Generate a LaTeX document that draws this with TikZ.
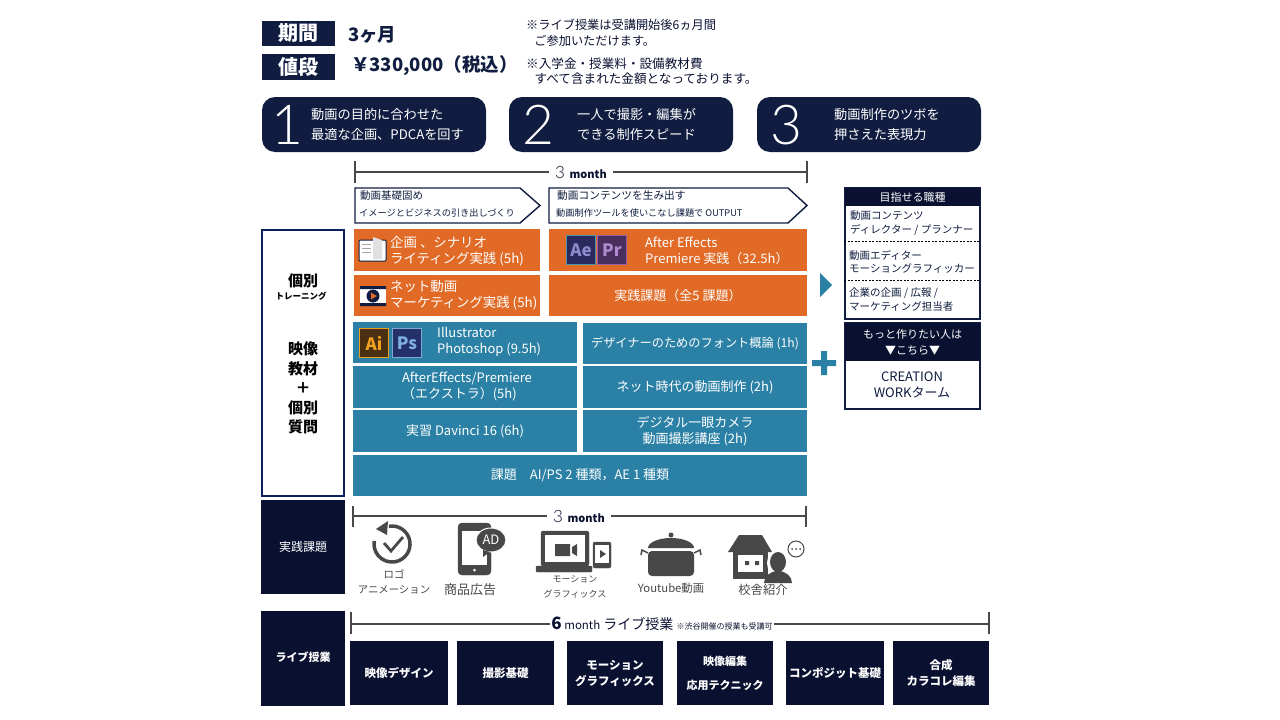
\documentclass[tikz,border=0pt]{standalone}
\usepackage{fontspec}
\setmainfont{Noto Sans CJK JP}
\newfontfamily\lightfont{Lato Light}
\newcommand{\sz}[2]{\fontsize{#1}{#2}\selectfont}
\definecolor{navy}{HTML}{101D40}
\definecolor{ink}{HTML}{0A1030}
\definecolor{rust}{HTML}{E06A26}
\definecolor{sea}{HTML}{2A80A5}
\definecolor{iconGray}{HTML}{484848}
\definecolor{sideblue}{HTML}{0B2060}
\tikzset{
  tag/.style={fill=navy,text=white,inner sep=0,font=\bfseries\sz{20}{22}},
  pill/.style={fill=navy,rounded corners=13,inner sep=0,minimum width=224,minimum height=55},
  pillnum/.style={text=white,inner sep=0,font=\lightfont\sz{55}{58}},
  pilltext/.style={text=white,inner sep=0,align=left,font=\sz{13.2}{20}},
  rustbox/.style={fill=rust,text=white,inner sep=0,align=center,font=\sz{13}{16}},
  seabox/.style={fill=sea,text=white,inner sep=0,align=center,font=\sz{13}{16}},
  darkbox/.style={fill=ink,text=white,inner sep=0,align=center,font=\bfseries\sz{11.5}{16}},
  plain/.style={inner sep=0,align=center},
  note/.style={inner sep=0,align=left,text=ink},
  phase/.style={draw=navy,line width=1.4,fill=white},
  span/.style={draw=iconGray,line width=1.2},
  goal/.style={inner sep=0,align=left,text=navy,font=\sz{10.5}{13.5}},
  icontext/.style={inner sep=0,align=center,text=iconGray,font=\sz{12}{15}},
  appbox/.style={inner sep=0,minimum width=29,minimum height=29,line width=1.4,font=\bfseries\sz{17}{18}},
}
\begin{document}
\begin{tikzpicture}[x=1pt,y=-1pt]
\useasboundingbox (0,0) rectangle (1280,720);
\node[tag,minimum width=73,minimum height=25] (kikan) at (298.5,33.5) {期間};
\node[tag,minimum width=73,minimum height=26] (nedan) at (298.5,67) {値段};
\node[plain,anchor=west,font=\bfseries\sz{18.5}{20},text=navy] (kikantext) at (348,35) {3ヶ月};
\node[plain,anchor=west,font=\bfseries\sz{18.5}{20},text=navy] (nedantext) at (351,66) {￥330,000（税込）};
\node[note,anchor=west,font=\sz{12.2}{15.5}] (note1) at (526,33) {※ライブ授業は受講開始後6ヵ月間\\\ \ \ ご参加いただけます。};
\node[note,anchor=west,font=\sz{12.6}{15}] (note2) at (526,71) {※入学金・授業料・設備教材費\\\ \ \ すべて含まれた金額となっております。};

\node[pill] (pill1) at (374,124.5) {};
\node[pill] (pill2) at (621,124.5) {};
\node[pill] (pill3) at (869,124.5) {};
\node[pillnum] (num1) at (287,125) {1};
\node[pillnum] (num2) at (538,125) {2};
\node[pillnum] (num3) at (786,125) {3};
\node[pilltext,anchor=west] (text1) at (311,124.5) {動画の目的に合わせた\\最適な企画、PDCAを回す};
\node[pilltext,anchor=west] (text2) at (577,124.5) {一人で撮影・編集が\\できる制作スピード};
\node[pilltext,anchor=west] (text3) at (834,124.5) {動画制作のツボを\\押さえた表現力};

\coordinate (top1) at (355,172);
\coordinate (top2) at (807,172);
\node[plain,fill=white,inner xsep=6,font=\lightfont\sz{17}{18},text=ink] (topmonth) at (581,172) {3 \rmfamily\bfseries\sz{11}{16}month};
\draw[span] (top1) -- (topmonth) -- (top2);
\draw[span] (355,161) -- (355,183);
\draw[span] (807,161) -- (807,183);

\draw[phase] (355,188) -- (520,188) -- (540,205.5) -- (520,223) -- (355,223) -- cycle;
\draw[phase] (549,188) -- (788,188) -- (807,205.5) -- (788,223) -- (549,223) -- cycle;
\node[plain,anchor=west,font=\sz{10.5}{12},text=navy] (phase1a) at (360,196) {動画基礎固め};
\node[plain,anchor=west,font=\sz{9.2}{12},text=navy] (phase1b) at (359,213) {イメージとビジネスの引き出しづくり};
\node[plain,anchor=west,font=\sz{10.7}{12},text=navy] (phase2a) at (557,195) {動画コンテンツを生み出す};
\node[plain,anchor=west,font=\sz{9.2}{12},text=navy] (phase2b) at (556,213) {動画制作ツールを使いこなし課題で OUTPUT};

\node[draw=sideblue,line width=2,fill=white,inner sep=0,minimum width=82,minimum height=266] (sidebox) at (303,363) {};
\node[plain,font=\bfseries\sz{15}{16}] (kobetsu) at (303,281) {個別};
\node[plain,font=\bfseries\sz{8.5}{10}] (training) at (301,296) {トレーニング};
\node[plain,font=\bfseries\sz{15}{19.5}] (eizo) at (303,388) {映像\\教材\\＋\\個別\\質問};

\node[rustbox,minimum width=186,minimum height=42] (kikaku) at (447,250) {};
\node[rustbox,minimum width=186,minimum height=41] (net) at (447,295.5) {};
\node[rustbox,minimum width=258,minimum height=42] (aepr) at (678,250) {};
\node[rustbox,minimum width=258,minimum height=41] (jissen) at (678,295.5) {実践課題（全5 課題）};
\node[plain,anchor=west,align=left,text=white,font=\sz{13.4}{16}] (kikakutext) at (390,251) {企画 、シナリオ\\ライティング実践 (5h)};
\node[plain,anchor=west,align=left,text=white,font=\sz{13.4}{16}] (nettext) at (390,295.5) {ネット動画\\マーケティング実践 (5h)};
\node[plain,anchor=west,align=left,text=white,font=\sz{13}{16}] (aeprtext) at (645,251) {After Effects\\Premiere 実践（32.5h）};

\filldraw[draw=navy,line width=1,fill=white,rounded corners=1] (359,240) rectangle (386,261);
\fill[black!12] (373,237) -- (382,240) -- (382,259) -- (373,259) -- cycle;
\draw[black!35] (362,244) -- (371,244) (362,248) -- (371,248) (362,252) -- (371,252);
\fill[white] (360,286) rectangle (386,306);
\fill[navy] (360,286) rectangle (386,289) (360,303) rectangle (386,306);
\fill[navy] (373,296) circle (6.5);
\fill[rust] (371,292.5) -- (377,296) -- (371,299.5) -- cycle;

\node[appbox,fill={rgb,255:red,43;green,42;blue,94},draw={rgb,255:red,70;green,150;blue,175},text={rgb,255:red,140;green,140;blue,205}] (ae) at (581,250) {Ae};
\node[appbox,fill={rgb,255:red,74;green,47;blue,94},draw={rgb,255:red,150;green,95;blue,168},text={rgb,255:red,176;green,139;blue,208}] (pr) at (612,250) {Pr};

\node[seabox,minimum width=224,minimum height=41] (cell1) at (465,342.5) {};
\node[appbox,fill={rgb,255:red,74;green,48;blue,16},draw={rgb,255:red,232;green,160;blue,32},text={rgb,255:red,240;green,160;blue,32}] (ai) at (374,343) {Ai};
\node[appbox,fill={rgb,255:red,35;green,48;blue,106},draw={rgb,255:red,127;green,168;blue,208},text={rgb,255:red,127;green,176;blue,224}] (ps) at (407,343) {Ps};
\node[plain,anchor=west,align=left,text=white,font=\sz{13}{16}] (cell1text) at (437,341.5) {Illustrator\\Photoshop (9.5h)};
\node[seabox,minimum width=224,minimum height=41,font=\sz{12.2}{16}] (cell2) at (695,343.5) {デザイナーのためのフォント概論 (1h)};
\node[seabox,minimum width=224,minimum height=42] (cell3) at (465,387) {};
\node[plain,anchor=west,align=left,text=white,font=\sz{13}{16}] (cell3text) at (402,386.5) {AfterEffects/Premiere\\（エクストラ）(5h)};
\node[seabox,minimum width=224,minimum height=42] (cell4) at (695,387) {ネット時代の動画制作 (2h)};
\node[seabox,minimum width=224,minimum height=42] (cell5) at (465,431) {実習 Davinci 16 (6h)};
\node[seabox,minimum width=224,minimum height=42] (cell6) at (695,431) {デジタル一眼カメラ\\動画撮影講座 (2h)};
\node[seabox,minimum width=454,minimum height=41] (cell7) at (580,475.5) {課題　AI/PS 2 種類，AE 1 種類};

\fill[sea] (820,273) -- (832,285) -- (820,297) -- cycle;
\fill[sea] (821,351) rectangle (827,375) (812,360) rectangle (836,366);

\node[draw=navy,line width=1.2,fill=white,inner sep=0,minimum width=135,minimum height=131] (goalbox) at (912.5,253.5) {};
\node[darkbox,minimum width=135,minimum height=18,font=\sz{11}{13}] (goalhead) at (912.5,197) {目指せる職種};
\node[goal,anchor=west] (goal1) at (850,223) {動画コンテンツ\\ディレクター / プランナー};
\node[goal,anchor=west] (goal2) at (849,262) {動画エディター\\モーショングラフィッカー};
\node[goal,anchor=west] (goal3) at (849,299.5) {企業の企画 / 広報 /\\マーケティング担当者};
\draw[line width=1,dash pattern=on 2pt off 1.5pt] (goalbox.west |- 0,241) -- (goalbox.east |- 0,241);
\draw[line width=1,dash pattern=on 2pt off 1.5pt] (goalbox.west |- 0,280) -- (goalbox.east |- 0,280);

\node[draw=navy,line width=1.2,fill=white,inner sep=0,minimum width=135,minimum height=86,align=center,text=navy] (workbox) at (912.5,366) {};
\node[darkbox,minimum width=135,minimum height=38,font=\sz{11}{16}] (workhead) at (912.5,342) {もっと作りたい人は\\▼こちら▼};
\node[plain,text=navy,font=\sz{13}{16}] (worktext) at (912,385) {CREATION\\WORKターム};

\node[darkbox,minimum width=84,minimum height=94,font=\sz{12}{14}] (kadai) at (303,547) {実践課題};
\coordinate (mid1) at (353,516);
\coordinate (mid2) at (806,516);
\node[plain,fill=white,inner xsep=6,font=\lightfont\sz{17}{18},text=ink] (midmonth) at (579,516) {3 \rmfamily\bfseries\sz{11}{16}month};
\draw[span] (mid1) -- (midmonth) -- (mid2);
\draw[span] (353,506) -- (353,527);
\draw[span] (806,506) -- (806,527);

\draw[iconGray,line width=3.5] (388.9,526.3) arc (-100:190:18 and 18);
\fill[iconGray] (376,529) -- (388,521) -- (387,535) -- cycle;
\draw[iconGray,line width=2.8] (384,543) -- (391,551) -- (403,537);
\filldraw[iconGray,rounded corners=4] (458,523) rectangle (491,575);
\fill[white] (462,531) rectangle (487,565);
\fill[white] (474.5,570) circle (1.5);
\filldraw[draw=white,fill=iconGray,line width=1] (491,540) ellipse (15 and 12);
\fill[iconGray] (483,550) -- (483,557) -- (490,552) -- cycle;
\node[plain,text=white,font=\sz{13}{14}] (adlabel) at (491,540) {AD};
\filldraw[iconGray,rounded corners=2] (541,531) rectangle (589,566);
\fill[white] (545,535) rectangle (585,562);
\fill[iconGray] (555,544) rectangle (570,556) (572,547) -- (577,544) -- (577,556) -- (572,553) -- cycle;
\filldraw[iconGray,rounded corners=1] (536,566) rectangle (592,572);
\filldraw[iconGray,rounded corners=2] (593,542) rectangle (611,568);
\fill[white] (595,545) rectangle (609,563);
\fill[iconGray] (600,550) -- (606,554) -- (600,558) -- cycle;
\fill[iconGray,rounded corners=4] (648,551) -- (694,551) -- (694,576) -- (648,576) -- cycle;
\fill[iconGray] (648,548) arc (180:360:23 and 10) -- cycle;
\fill[iconGray] (671,535) circle (2.5);
\draw[iconGray,line width=1.5] (648,553) -- (642,550) -- (641,555) (694,553) -- (700,550) -- (701,555);
\fill[iconGray] (739,535) -- (762,535) -- (772,552) -- (728,552) -- cycle;
\fill[iconGray] (733,552) rectangle (768,579);
\fill[white] (738,555) rectangle (763,572);
\fill[iconGray] (745,561) rectangle (749,565) (755,561) rectangle (759,565);
\fill[white] (778,563) ellipse (11 and 13);
\fill[iconGray] (778,562) ellipse (8 and 10);
\fill[iconGray] (764,583) arc (180:360:14 and 12) -- cycle;
\filldraw[draw=iconGray,fill=white,line width=1] (796,549) circle (8);
\fill[iconGray] (792,549) circle (1) (796,549) circle (1) (800,549) circle (1);
\node[icontext,font=\sz{10.4}{15.5}] (logo) at (394,582) {ロゴ\\アニメーション};
\node[icontext,font=\sz{13}{15}] (ad) at (470,590) {商品広告};
\node[icontext,font=\sz{9}{15}] (motion) at (575,587) {モーション\\グラフィックス};
\node[icontext,font=\sz{11.3}{15}] (youtube) at (671,588) {Youtube動画};
\node[icontext,font=\sz{12.3}{15}] (school) at (763,590) {校舎紹介};

\node[darkbox,minimum width=84,minimum height=95,font=\bfseries\sz{11}{14}] (live) at (303,658.5) {\raisebox{4pt}{ライブ授業}};
\coordinate (low1) at (351,624);
\coordinate (low2) at (989,624);
\node[plain,fill=white,inner xsep=1,text=ink] (lowtext) at (662,624) {\raisebox{1pt}{\sz{17}{18}\bfseries 6\sz{11.5}{16}\mdseries\ month\sz{14}{16}\ ライブ授業\ \sz{8}{16}※渋谷開催の授業も受講可}};
\draw[span] (low1) -- (lowtext) -- (low2);
\draw[span] (351,612) -- (351,634);
\draw[span] (989,612) -- (989,634);
\node[darkbox,minimum width=98,minimum height=64] (live1) at (399,673) {映像デザイン};
\node[darkbox,minimum width=97,minimum height=64] (live2) at (505.5,673) {撮影基礎};
\node[darkbox,minimum width=96,minimum height=64] (live3) at (615,673) {モーション\\グラフィックス};
\node[darkbox,minimum width=96,minimum height=64,font=\bfseries\sz{11}{24}] (live4) at (725,673) {映像編集\\応用テクニック};
\node[darkbox,minimum width=98,minimum height=64] (live5) at (835,673) {コンポジット基礎};
\node[darkbox,minimum width=96,minimum height=64] (live6) at (941,673) {合成\\カラコレ編集};
\end{tikzpicture}
\end{document}
